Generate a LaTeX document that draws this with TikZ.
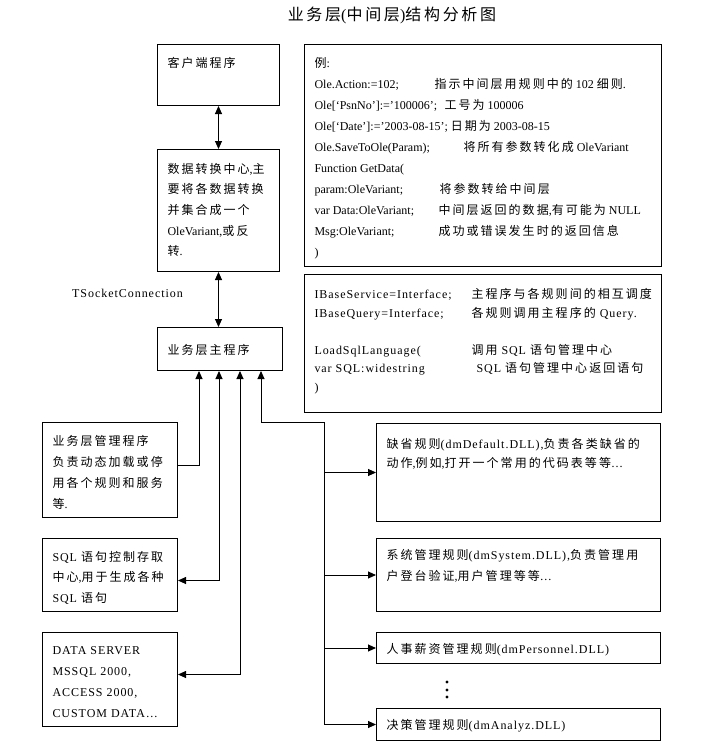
\documentclass[tikz,border=0pt]{standalone}
\usepackage{fontspec}
\setmainfont{Liberation Serif}
\newfontfamily\latw[LetterSpace=8]{Liberation Serif}
\newfontfamily\cjk[LetterSpace=17]{Noto Sans CJK SC}
\usetikzlibrary{arrows.meta}
\XeTeXinterchartokenstate=1
\makeatletter
\count@="4E00
\loop\ifnum\count@<"A000 \XeTeXcharclass\count@=1 \advance\count@\@ne\repeat
\makeatother
\newcommand\lat{\rmfamily}
\XeTeXinterchartoks 0 1 = {\cjk}
\XeTeXinterchartoks 4095 1 = {\cjk}
\XeTeXinterchartoks 1 0 = {\lat}
\XeTeXinterchartoks 1 4095 = {\lat}
\newcommand\fs[2]{\fontsize{#1}{#2}\selectfont}
\newcommand\wide{\latw\let\lat\latw}
\newcommand\tb[4]{\parbox[c][#1pt][t]{#2pt}{\leftskip=10pt\rightskip=0pt plus 1fil\parindent=0pt\rule{0pt}{#3pt}#4}}
\newcommand\cc[2]{\makebox[#1pt][l]{#2}}
\tikzset{
  box/.style={draw, line width=1pt, inner sep=0pt, anchor=north west},
  conn/.style={line width=0.9pt},
  arr/.style={conn, -{Triangle[length=8pt,width=7pt]}},
  arrb/.style={conn, {Triangle[length=8pt,width=7pt]}-{Triangle[length=8pt,width=7pt]}},
  arrs/.style={conn, {Triangle[length=8pt,width=7pt]}-},
}
\begin{document}
\begin{tikzpicture}[x=1pt,y=-1pt]
\useasboundingbox (0,0) rectangle (714,748);
\node[font=\fs{16}{18}] (title) at (392,15) {业务层(中间层)结构分析图};

\node[box, font=\fs{12}{20.7}] (client) at (157,44) {\tb{61}{122}{22.6}{客户端程序}};
\node[box, font=\fs{12}{20.7}] (conv) at (157,149) {\tb{122}{122}{23.6}{数据转换中心,主\\要将各数据转换\\并集合成一个\\OleVariant,或反\\转.}};
\node[anchor=west, inner sep=0pt, font=\fs{12}{14}\wide] (tsock) at (72,293) {TSocketConnection};
\node[box, font=\fs{12}{20.7}] (main) at (157,327) {\tb{43}{125}{26.6}{业务层主程序}};

\node[box, font=\fs{12}{21}] (ex) at (304,44) {\tb{222}{357}{22.6}{例:\\
\cc{120}{Ole.Action:=102;}指示中间层用规则中的 102 细则.\\
\cc{130}{Ole[‘PsnNo’]:=’100006’;}工号为 100006\\
Ole[‘Date’]:=’2003-08-15’; 日期为 2003-08-15\\
\cc{149}{Ole.SaveToOle(Param);}将所有参数转化成 OleVariant\\
Function GetData(\\
\cc{125}{param:OleVariant;}将参数转给中间层\\
\cc{124}{var Data:OleVariant;}中间层返回的数据,有可能为 NULL\\
\cc{124}{Msg:OleVariant;}成功或错误发生时的返回信息\\
)}};

\node[box, font=\fs{12}{18.6}\wide] (iface) at (304,274) {\tb{138}{357}{24}{%
\cc{157}{IBaseService=Interface;}主程序与各规则间的相互调度\\
\cc{157}{IBaseQuery=Interface;}各规则调用主程序的 Query.\\
~\\
\cc{157}{LoadSqlLanguage(}调用 SQL 语句管理中心\\
\cc{157}{var SQL:widestring}\hspace{5pt}SQL 语句管理中心返回语句\\
)}};

\node[box, font=\fs{12}{21}] (mgmt) at (42,422) {\tb{95}{135}{22.6}{业务层管理程序\\负责动态加载或停\\用各个规则和服务\\等.}};
\node[box, font=\fs{12}{20.5}\wide] (sql) at (42,538) {\tb{73}{135}{22.6}{SQL 语句控制存取\\中心,用于生成各种\\SQL 语句}};
\node[box, font=\fs{12}{21}\wide] (data) at (42,632) {\tb{94}{135}{21.5}{DATA SERVER\\MSSQL 2000,\\ACCESS 2000,\\CUSTOM DATA…}};

\node[box, font=\fs{12}{19.5}\wide] (r1) at (376,423) {\tb{98}{284}{24.6}{缺省规则(dmDefault.DLL),负责各类缺省的\\动作,例如,打开一个常用的代码表等等…}};
\node[box, font=\fs{12}{21}\wide] (r2) at (376,538) {\tb{73}{284}{20.6}{系统管理规则(dmSystem.DLL),负责管理用\\户登台验证,用户管理等等…}};
\node[box, font=\fs{12}{20}\wide] (r3) at (376,632) {\tb{31}{284}{20.6}{人事薪资管理规则(dmPersonnel.DLL)}};
\node[box, font=\fs{12}{20}\wide] (r4) at (376,708) {\tb{32}{284}{20.6}{决策管理规则(dmAnalyz.DLL)}};

\fill (447,682) circle (1.6) (447,690) circle (1.6) (447,697) circle (1.6);

\draw[arrb] (client.south) -- (client.south |- conv.north);
\draw[arrb] (conv.south) -- (conv.south |- main.north);

\draw[arr] ([yshift=5pt]mgmt.east) -| ([xshift=42pt]main.south west);
\draw[arrb] ([xshift=62pt]main.south west) |- ([yshift=-5.5pt]sql.east);
\draw[arrb] ([xshift=83pt]main.south west) |- ([yshift=5pt]data.east);

\coordinate (bus) at (324,422);
\draw[arrs] ([xshift=104pt]main.south west) |- (bus) -- (bus |- r4.west);
\draw[arr] (bus |- r1.west) -- (r1.west);
\draw[arr] (bus |- r2.west) -- (r2.west);
\draw[arr] (bus |- r3.west) -- (r3.west);
\draw[arr] (bus |- r4.west) -- (r4.west);
\end{tikzpicture}
\end{document}
